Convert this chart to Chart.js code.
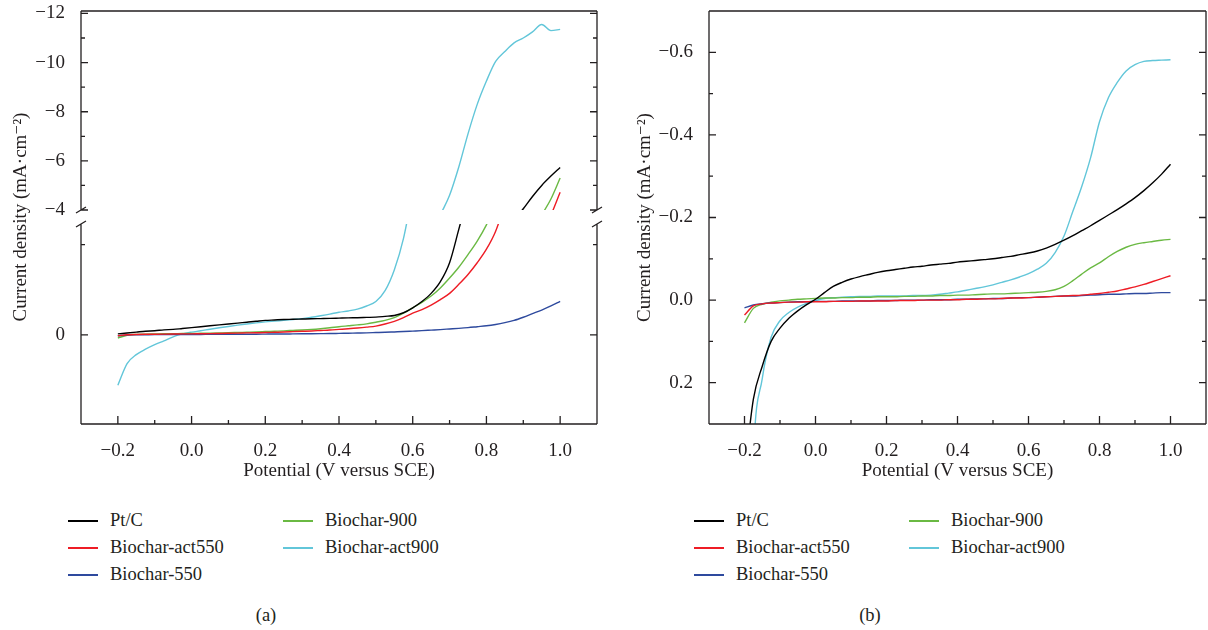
<!DOCTYPE html>
<html lang="en">
<head>
<meta charset="UTF-8" />
<title>Polarization curves</title>
<script src="https://cdn.jsdelivr.net/npm/chart.js@4.4.1/dist/chart.umd.min.js"></script>
<style>
  body {
    margin: 0;
    width: 1208px;
    height: 630px;
    position: relative;
    overflow: hidden;
    background: #fff;
    font-family: 'Liberation Serif', 'DejaVu Serif', serif;
    color: #231f20;
  }
  .panel { position: absolute; top: 0; width: 604px; height: 630px; }
  #panelA { left: 0; }
  #panelB { left: 604px; }
  .panel canvas { position: absolute; left: 0; top: 0; }
  .legend {
    position: absolute;
    top: 507px;
    display: grid;
    grid-auto-flow: column;
    grid-template-rows: repeat(3, 27px);
    grid-template-columns: 215px 215px;
    font-size: 18.5px;
  }
  #legendA { left: 68px; }
  #legendB { left: 90px; }
  .legend .item { display: flex; align-items: center; white-space: nowrap; }
  .legend .swatch { display: inline-block; width: 30px; height: 2px; margin-right: 12px; }
  .caption { position: absolute; top: 605px; left: 246px; width: 40px; text-align: center; font-size: 18.5px; }
</style>
</head>
<body>
<div class="panel" id="panelA">
  <canvas id="chartA" width="604" height="490"></canvas>
  <div class="legend" id="legendA"></div>
  <div class="caption">(a)</div>
</div>
<div class="panel" id="panelB">
  <canvas id="chartB" width="604" height="490"></canvas>
  <div class="legend" id="legendB"></div>
  <div class="caption">(b)</div>
</div>
<script>
// potential (V versus SCE), shared by every curve
const potential = [-0.2, -0.175, -0.15, -0.125, -0.1, -0.075, -0.05, -0.025, 0,
  0.025, 0.05, 0.075, 0.1, 0.125, 0.15, 0.175, 0.2,
  0.225, 0.25, 0.275, 0.3, 0.325, 0.35, 0.375, 0.4, 0.425, 0.45, 0.475, 0.5,
  0.525, 0.55, 0.575, 0.6, 0.625, 0.65, 0.675, 0.7, 0.725,
  0.75, 0.775, 0.8, 0.825, 0.85, 0.875, 0.9, 0.925, 0.95, 0.975, 1.0]

const seriesNames = ['Pt/C', 'Biochar-act550', 'Biochar-550', 'Biochar-900', 'Biochar-act900']
const seriesColors = ['#000000', '#ee1c25', '#2e4a9e', '#6ab943', '#62c6d9']

// panel (a), current density in mA·cm-2
const ptcA = [-0.01, -0.02, -0.03, -0.04, -0.045, -0.055, -0.06, -0.07, -0.08,
  -0.09, -0.1, -0.11, -0.12, -0.13, -0.14, -0.15, -0.16,
  -0.165, -0.17, -0.172, -0.175, -0.178, -0.18, -0.182, -0.185, -0.188, -0.19, -0.193, -0.196,
  -0.205, -0.215, -0.245, -0.3, -0.37, -0.46, -0.59, -0.8, -1.17,
  -1.55, -1.95, -2.35, -2.8, -3.2, -3.6, -4.05, -4.55, -5.0, -5.38, -5.73]
const act550A = [0.01, 0.0, -0.004, -0.006, -0.007, -0.008, -0.009, -0.01, -0.01,
  -0.012, -0.013, -0.015, -0.017, -0.019, -0.021, -0.023, -0.025,
  -0.028, -0.031, -0.035, -0.039, -0.043, -0.048, -0.053, -0.06, -0.067, -0.075, -0.085, -0.097,
  -0.12, -0.15, -0.19, -0.24, -0.28, -0.33, -0.39, -0.46, -0.56,
  -0.67, -0.8, -0.95, -1.15, -1.45, -1.8, -2.2, -2.65, -3.15, -3.8, -4.72]
const b550A = [0.01, 0.002, 0.0, -0.001, -0.002, -0.002, -0.003, -0.003, -0.004,
  -0.004, -0.005, -0.005, -0.006, -0.006, -0.007, -0.007, -0.008,
  -0.009, -0.009, -0.01, -0.011, -0.012, -0.013, -0.014, -0.016, -0.018, -0.02, -0.022, -0.025,
  -0.028, -0.032, -0.036, -0.041, -0.046, -0.052, -0.058, -0.065, -0.072,
  -0.08, -0.09, -0.1, -0.115, -0.135, -0.16, -0.195, -0.235, -0.275, -0.32, -0.37]
const b900A = [0.035, 0.005, -0.005, -0.008, -0.01, -0.012, -0.013, -0.014, -0.015,
  -0.017, -0.019, -0.021, -0.023, -0.026, -0.029, -0.032, -0.036,
  -0.04, -0.044, -0.049, -0.054, -0.06, -0.068, -0.078, -0.09, -0.1, -0.11, -0.122, -0.14,
  -0.16, -0.19, -0.24, -0.3, -0.36, -0.43, -0.52, -0.63, -0.75,
  -0.89, -1.04, -1.22, -1.45, -1.75, -2.1, -2.55, -3.15, -3.8, -4.45, -5.3]
const act900A = [0.56, 0.32, 0.22, 0.16, 0.11, 0.067, 0.022, -0.01, -0.03,
  -0.045, -0.062, -0.078, -0.093, -0.107, -0.12, -0.132, -0.143,
  -0.152, -0.161, -0.17, -0.18, -0.195, -0.212, -0.23, -0.25, -0.265, -0.285, -0.32, -0.37,
  -0.49, -0.72, -1.07, -1.6, -2.2, -2.95, -3.8, -4.6, -5.75,
  -7.1, -8.3, -9.25, -10.05, -10.45, -10.8, -11.0, -11.25, -11.55, -11.3, -11.35]

// panel (b)
const ptcB = [0.42, 0.24, 0.16, 0.1, 0.068, 0.044, 0.026, 0.011, -0.002,
  -0.018, -0.033, -0.043, -0.051, -0.057, -0.062, -0.067, -0.071,
  -0.074, -0.077, -0.08, -0.082, -0.085, -0.087, -0.089, -0.092, -0.094, -0.096, -0.098, -0.1,
  -0.103, -0.106, -0.11, -0.114, -0.119, -0.126, -0.135, -0.145, -0.156,
  -0.168, -0.18, -0.193, -0.206, -0.219, -0.233, -0.248, -0.265, -0.284, -0.305, -0.329]
const act550B = [0.036, 0.014, 0.009, 0.007, 0.006, 0.005, 0.005, 0.004, 0.004,
  0.004, 0.003, 0.003, 0.003, 0.002, 0.002, 0.002, 0.002,
  0.001, 0.001, 0.001, 0.0, 0.0, 0.0, -0.001, -0.001, -0.002, -0.002, -0.003, -0.003,
  -0.004, -0.005, -0.005, -0.006, -0.007, -0.008, -0.009, -0.01, -0.011,
  -0.012, -0.014, -0.016, -0.019, -0.022, -0.027, -0.032, -0.038, -0.045, -0.052, -0.059]
const b550B = [0.019, 0.012, 0.009, 0.007, 0.006, 0.005, 0.004, 0.004, 0.003,
  0.003, 0.003, 0.002, 0.002, 0.002, 0.002, 0.001, 0.001,
  0.001, 0.0, 0.0, 0.0, -0.001, -0.001, -0.001, -0.002, -0.002, -0.003, -0.003, -0.004,
  -0.004, -0.005, -0.006, -0.006, -0.007, -0.008, -0.009, -0.01, -0.01,
  -0.011, -0.012, -0.013, -0.014, -0.014, -0.015, -0.016, -0.016, -0.017, -0.018, -0.018]
const b900B = [0.055, 0.02, 0.01, 0.005, 0.002, 0.0, -0.002, -0.003, -0.004,
  -0.005, -0.005, -0.006, -0.006, -0.007, -0.007, -0.008, -0.008,
  -0.008, -0.009, -0.009, -0.01, -0.01, -0.011, -0.011, -0.012, -0.012, -0.013, -0.014, -0.015,
  -0.015, -0.016, -0.017, -0.018, -0.019, -0.021, -0.025, -0.033, -0.047,
  -0.063, -0.078, -0.09, -0.105, -0.118, -0.128, -0.135, -0.139, -0.142, -0.145, -0.147]
const act900B = [1.2, 0.38, 0.19, 0.09, 0.05, 0.03, 0.017, 0.008, 0.001,
  -0.004, -0.006, -0.007, -0.008, -0.009, -0.009, -0.01, -0.01,
  -0.01, -0.01, -0.011, -0.011, -0.012, -0.014, -0.017, -0.02, -0.024, -0.028, -0.032, -0.037,
  -0.043, -0.049, -0.056, -0.064, -0.075, -0.089, -0.115, -0.155, -0.215,
  -0.275, -0.345, -0.432, -0.49, -0.527, -0.555, -0.57, -0.578, -0.58, -0.581, -0.582]

// axis ticks
const xMajorTicks = [-0.2, 0, 0.2, 0.4, 0.6, 0.8, 1.0]
const xMinorTicks = [-0.1, 0.1, 0.3, 0.5, 0.7, 0.9]
const aUpperMajor = [-12, -10, -8, -6, -4]
const aUpperMinor = [-11, -9, -7, -5]
const aLowerMajor = [0]
const aLowerMinor = [-1]
const bMajorTicks = [-0.6, -0.4, -0.2, 0, 0.2]
const bMinorTicks = [-0.5, -0.3, -0.1, 0.1]

const xTitle = 'Potential (V versus SCE)'
const yTitle = 'Current density (mA\u00b7cm\u207b\u00b2)'

Chart.defaults.font.family = "'Liberation Serif', 'DejaVu Serif', serif"
Chart.defaults.font.size = 19
Chart.defaults.color = '#231f20'

const fmt = decimals => v => (v < 0 ? '\u2212' : '') + Math.abs(v).toFixed(decimals)
const setTicks = values => scale => { scale.ticks = values.map(v => ({ value: v })) }
const noPadding = s => { s.paddingTop = 0; s.paddingBottom = 0; s.paddingLeft = 0; s.paddingRight = 0 }

function lineDataset(label, color, values, axis) {
  return {
    label: label,
    data: potential.map((x, i) => ({ x: x, y: values[i] })),
    yAxisID: axis,
    borderColor: color,
    borderWidth: 1.4,
    pointRadius: 0,
    cubicInterpolationMode: 'monotone',
    fill: false
  }
}

// keep each curve inside the band of its own y axis (broken axis in panel a)
const clipPlugin = {
  id: 'clipToAxis',
  beforeDatasetDraw(chart, args) {
    const s = chart.scales[chart.data.datasets[args.index].yAxisID]
    const ca = chart.chartArea
    chart.ctx.save()
    chart.ctx.beginPath()
    chart.ctx.rect(ca.left, s.top, ca.right - ca.left, s.bottom - s.top)
    chart.ctx.clip()
  },
  afterDatasetDraw(chart) {
    chart.ctx.restore()
  }
}

// box frame with inward ticks and break marks
const framePlugin = {
  id: 'frame',
  afterDatasetsDraw(chart, args, opts) {
    const { ctx, chartArea: ca } = chart
    const xs = chart.scales.x
    ctx.save()
    ctx.strokeStyle = '#231f20'
    ctx.lineWidth = 1.3
    ctx.beginPath()
    ctx.moveTo(ca.left, ca.top)
    ctx.lineTo(ca.right, ca.top)
    ctx.moveTo(ca.left, ca.bottom)
    ctx.lineTo(ca.right, ca.bottom)
    opts.yAxes.forEach(a => {
      const s = chart.scales[a.id]
      ;[ca.left, ca.right].forEach(x => {
        ctx.moveTo(x, s.top)
        ctx.lineTo(x, s.bottom)
      })
      const tick = (v, len) => {
        const y = s.getPixelForValue(v)
        ctx.moveTo(ca.left, y)
        ctx.lineTo(ca.left + len, y)
        ctx.moveTo(ca.right, y)
        ctx.lineTo(ca.right - len, y)
      }
      a.major.forEach(v => tick(v, 7))
      a.minor.forEach(v => tick(v, 4))
    })
    const xtick = (v, len) => {
      const x = xs.getPixelForValue(v)
      ctx.moveTo(x, ca.bottom)
      ctx.lineTo(x, ca.bottom - len)
    }
    xMajorTicks.forEach(v => xtick(v, 8))
    xMinorTicks.forEach(v => xtick(v, 4))
    if (opts.gap) {
      const g = chart.scales[opts.gap]
      ;[ca.left, ca.right].forEach(x => {
        ;[g.top, g.bottom].forEach(y => {
          ctx.moveTo(x - 5, y + 3)
          ctx.lineTo(x + 5, y - 3)
        })
      })
    }
    ctx.stroke()
    ctx.restore()
  }
}

function xScale() {
  return {
    type: 'linear',
    min: -0.3,
    max: 1.1,
    afterBuildTicks: setTicks(xMajorTicks),
    ticks: { padding: 8, maxRotation: 0, autoSkip: false, callback: fmt(1) },
    grid: { display: false },
    border: { display: false },
    title: { display: true, text: xTitle, padding: { top: 0, bottom: 8 } },
    afterFit: s => { s.height = 66; noPadding(s) }
  }
}

const baseOptions = {
  responsive: false,
  animation: false,
  plugins: { legend: { display: false }, tooltip: { enabled: false } }
}

// panel (a): broken y axis made of two stacked scales with a gap between them
const datasetsA = []
;['yHi', 'yLo'].forEach(axis => {
  ;[ptcA, act550A, b550A, b900A, act900A].forEach((vals, i) => {
    datasetsA.push(lineDataset(seriesNames[i], seriesColors[i], vals, axis))
  })
})

new Chart(document.getElementById('chartA'), {
  type: 'line',
  data: { datasets: datasetsA },
  plugins: [clipPlugin, framePlugin],
  options: {
    ...baseOptions,
    layout: { padding: { top: 11, right: 7, left: 0, bottom: 0 } },
    plugins: {
      ...baseOptions.plugins,
      frame: {
        gap: 'yGap',
        yAxes: [
          { id: 'yHi', major: aUpperMajor, minor: aUpperMinor },
          { id: 'yLo', major: aLowerMajor, minor: aLowerMinor }
        ]
      }
    },
    scales: {
      x: xScale(),
      yHi: {
        type: 'linear', position: 'left', stack: 'left', stackWeight: 199, weight: 3,
        reverse: true, min: -12.1, max: -4,
        afterBuildTicks: setTicks(aUpperMajor),
        ticks: { padding: 8, callback: fmt(0) },
        grid: { display: false }, border: { display: false },
        afterFit: s => { s.width = 81; noPadding(s) }
      },
      yGap: {
        type: 'linear', position: 'left', stack: 'left', stackWeight: 14, weight: 2,
        min: 0, max: 1,
        ticks: { display: false },
        grid: { display: false }, border: { display: false },
        title: { display: true, text: yTitle, padding: { top: 10, bottom: 0 } },
        afterFit: s => { s.width = 81; noPadding(s) }
      },
      yLo: {
        type: 'linear', position: 'left', stack: 'left', stackWeight: 200, weight: 1,
        reverse: true, min: -1.23, max: 0.99,
        afterBuildTicks: setTicks(aLowerMajor),
        ticks: { padding: 8, callback: fmt(0) },
        grid: { display: false }, border: { display: false },
        afterFit: s => { s.width = 81; noPadding(s) }
      }
    }
  }
})

// panel (b)
const datasetsB = [ptcB, act550B, b550B, b900B, act900B].map((vals, i) =>
  lineDataset(seriesNames[i], seriesColors[i], vals, 'y'))

new Chart(document.getElementById('chartB'), {
  type: 'line',
  data: { datasets: datasetsB },
  plugins: [clipPlugin, framePlugin],
  options: {
    ...baseOptions,
    layout: { padding: { top: 11, right: 2, left: 0, bottom: 0 } },
    plugins: {
      ...baseOptions.plugins,
      frame: { yAxes: [{ id: 'y', major: bMajorTicks, minor: bMinorTicks }] }
    },
    scales: {
      x: xScale(),
      y: {
        type: 'linear', position: 'left', reverse: true, min: -0.7, max: 0.3,
        afterBuildTicks: setTicks(bMajorTicks),
        ticks: { padding: 8, callback: fmt(1) },
        grid: { display: false }, border: { display: false },
        title: { display: true, text: yTitle, padding: { top: 30, bottom: 0 } },
        afterFit: s => { s.width = 105; noPadding(s) }
      }
    }
  }
})

// html legends, column by column like the figure
function buildLegend(id) {
  const box = document.getElementById(id)
  seriesNames.forEach((name, i) => {
    const item = document.createElement('div')
    item.className = 'item'
    const sw = document.createElement('span')
    sw.className = 'swatch'
    sw.style.backgroundColor = seriesColors[i]
    const label = document.createElement('span')
    label.textContent = name
    item.appendChild(sw)
    item.appendChild(label)
    box.appendChild(item)
  })
}
buildLegend('legendA')
buildLegend('legendB')
</script>
</body>
</html>
